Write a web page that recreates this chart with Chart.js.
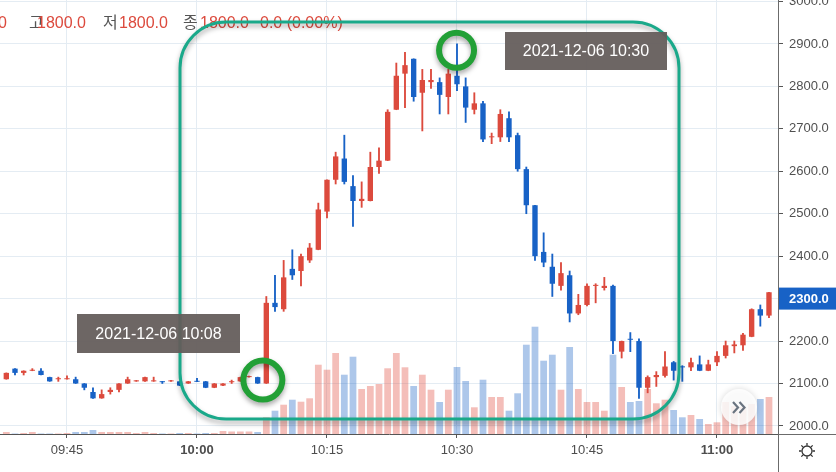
<!DOCTYPE html>
<html>
<head>
<meta charset="utf-8">
<script src="https://cdn.jsdelivr.net/npm/chart.js@4.4.1/dist/chart.umd.min.js"></script>
<style>
  html, body { margin: 0; padding: 0; background: #fff; overflow: hidden; }
  canvas { display: block; }
</style>
</head>
<body>
<canvas id="chart" width="836" height="472"></canvas>
<script>
// 1-minute candles, 2021-12-06
const times = [
  '09:38','09:39','09:40','09:41','09:42','09:43','09:44','09:45','09:46','09:47','09:48',
  '09:49','09:50','09:51','09:52','09:53','09:54','09:55','09:56','09:57','09:58','09:59',
  '10:00','10:01','10:02','10:03','10:04','10:05','10:06','10:07','10:08','10:09','10:10','10:11','10:12','10:13','10:14',
  '10:15','10:16','10:17','10:18','10:19','10:20','10:21','10:22','10:23','10:24','10:25','10:26','10:27','10:28','10:29',
  '10:30','10:31','10:32','10:33','10:34','10:35','10:36','10:37','10:38','10:39','10:40','10:41','10:42','10:43','10:44',
  '10:45','10:46','10:47','10:48','10:49','10:50','10:51','10:52','10:53','10:54','10:55','10:56','10:57','10:58','10:59',
  '11:00','11:01','11:02','11:03','11:04','11:05','11:06'
];
const open = [
  2110,2135,2125,2130,2130,2115,2110,2110,2110,2100,2080,2065,2080,2085,2100,2105,2105,2105,2105,2105,2105,2100,
  2105,2105,2090,2095,2103,2105,2115,2115,2100,2290,2275,2370,2365,2390,2415,2505,2580,2630,2565,2530,2530,2610,2625,
  2745,2830,2865,2785,2810,2810,2775,2825,2800,2745,2760,2680,2680,2725,2685,2605,2520,2410,2375,2330,2355,2265,2285,
  2330,2325,2330,2175,2205,2200,2090,2115,2118,2150,2140,2138,2145,2130,
  2150,2165,2188,2190,2210,2275,2260
];
const high = [
  2125,2135,2130,2135,2135,2115,2115,2118,2115,2100,2090,2085,2090,2100,2115,2105,2115,2115,2105,2105,2105,2105,
  2112,2105,2100,2100,2108,2115,2115,2115,2305,2355,2390,2415,2405,2430,2525,2580,2645,2685,2590,2575,2645,2655,2745,
  2855,2880,2865,2840,2840,2820,2840,2900,2820,2785,2765,2690,2745,2740,2690,2610,2520,2455,2405,2385,2365,2310,2335,
  2335,2350,2332,2200,2220,2205,2118,2128,2175,2152,2142,2160,2165,2155,
  2175,2200,2200,2218,2276,2285,2315
];
const low = [
  2110,2120,2120,2130,2120,2105,2105,2110,2100,2085,2065,2065,2075,2080,2100,2105,2105,2105,2100,2105,2095,2100,
  2104,2090,2090,2095,2100,2105,2115,2100,2100,2270,2270,2345,2330,2385,2415,2490,2570,2570,2470,2515,2530,2595,2625,
  2745,2750,2765,2695,2795,2735,2735,2790,2715,2735,2670,2665,2670,2670,2600,2500,2390,2375,2305,2320,2245,2262,2283,
  2290,2320,2170,2160,2175,2065,2078,2093,2115,2108,2105,2130,2130,2130,
  2142,2160,2172,2178,2210,2235,2255
];
const close = [
  2125,2125,2130,2130,2120,2105,2110,2110,2100,2090,2065,2075,2085,2100,2110,2105,2115,2105,2103,2105,2095,2105,
  2104,2090,2100,2100,2105,2115,2115,2100,2290,2280,2350,2355,2400,2420,2510,2580,2635,2575,2530,2535,2610,2625,2740,
  2825,2850,2775,2815,2815,2780,2830,2805,2750,2760,2675,2680,2735,2680,2605,2520,2400,2385,2335,2360,2265,2285,2330,
  2332,2330,2200,2200,2203,2090,2115,2120,2140,2130,2138,2150,2130,2145,
  2165,2190,2192,2215,2275,2260,2315
];
const volume = [
  2000,500,1000,2000,500,500,500,1000,2000,2000,4000,2000,2000,2000,2000,1000,2000,1000,500,500,1000,1000,
  500,1000,1000,3000,2500,2500,2500,2000,16700,23300,29300,34300,32300,35700,69300,64300,81000,59300,77300,45000,48000,50000,65700,
  81000,66700,48000,59300,44300,32000,44300,67000,53000,26700,54300,37000,37000,23300,40700,89300,107300,73300,79300,44300,87000,45000,32000,
  32000,23300,79300,47000,32000,33000,45000,30700,34300,24000,16700,19000,15000,10000,
  11700,32000,28000,27000,30000,35000,37000
];
const priceTicks = [2000, 2100, 2200, 2300, 2400, 2500, 2600, 2700, 2800, 2900, 3000];
const timeTicks = ['09:45', '10:00', '10:15', '10:30', '10:45', '11:00'];
const lastPrice = 2300;

const UP = '#dc4a3d', DOWN = '#1862c6';
const UP_VOL = 'rgba(225,75,60,0.36)', DOWN_VOL = 'rgba(20,95,195,0.35)';
const FONT = "'Liberation Sans', Arial, 'Noto Sans CJK KR', sans-serif";
const isUp = i => close[i] >= open[i];

Chart.defaults.font.family = FONT;

const overlay = {
  id: 'overlay',
  afterDraw(chart) {
    const c = chart.ctx, a = chart.chartArea;
    const xs = chart.scales.x, ys = chart.scales.y;
    c.save();

    // axis frame continues into the corner box
    c.strokeStyle = '#6b6b6b';
    c.lineWidth = 1;
    c.beginPath();
    c.moveTo(Math.round(a.right) + 0.5, a.bottom);
    c.lineTo(Math.round(a.right) + 0.5, chart.height);
    c.moveTo(a.right, Math.round(a.bottom) + 0.5);
    c.lineTo(chart.width, Math.round(a.bottom) + 0.5);
    c.stroke();

    // settings gear
    const gx = 807, gy = 451;
    c.strokeStyle = '#333';
    c.lineWidth = 1.3;
    c.beginPath();
    c.arc(gx, gy, 5, 0, Math.PI * 2);
    c.stroke();
    c.beginPath();
    for (let k = 0; k < 8; k++) {
      const ang = k * Math.PI / 4;
      c.moveTo(gx + Math.cos(ang) * 5.5, gy + Math.sin(ang) * 5.5);
      c.lineTo(gx + Math.cos(ang) * 8, gy + Math.sin(ang) * 8);
    }
    c.stroke();

    // last price tag
    const py = ys.getPixelForValue(lastPrice);
    c.fillStyle = DOWN;
    c.fillRect(a.right + 1, py - 11, chart.width - a.right, 22);
    c.fillStyle = '#fff';
    c.font = 'bold 13px ' + FONT;
    c.textBaseline = 'middle';
    c.fillText(lastPrice.toFixed(1), a.right + 11, py + 0.5);

    // OHLC header
    c.textBaseline = 'alphabetic';
    c.font = '16px ' + FONT;
    const head = [
      ['0', UP, -2], ['고', '#555', 29], ['1800.0', UP, 37], ['저', '#555', 103], ['1800.0', UP, 119],
      ['종', '#555', 183], ['1800.0', UP, 200], ['0.0 (0.00%)', UP, 260]
    ];
    head.forEach(([t, col, x]) => { c.fillStyle = col; c.fillText(t, x, 28); });

    // teal highlight frame
    c.save();
    c.shadowColor = 'rgba(0,0,0,0.35)';
    c.shadowBlur = 5;
    c.shadowOffsetY = 3;
    c.strokeStyle = '#1aa98a';
    c.lineWidth = 3;
    c.beginPath();
    c.roundRect(180, 22, 499, 397, 46);
    c.stroke();

    // green circles on the two marked candles
    c.strokeStyle = '#22a036';
    c.lineWidth = 6;
    c.beginPath();
    c.arc(xs.getPixelForValue(times.indexOf('10:08') - 0.4), ys.getPixelForValue(2108), 19.5, 0, Math.PI * 2);
    c.stroke();
    c.beginPath();
    c.arc(xs.getPixelForValue(times.indexOf('10:30') - 0.05), ys.getPixelForValue(2885), 17.5, 0, Math.PI * 2);
    c.stroke();
    c.restore();

    // date labels
    const box = (x, y, w, h, txt) => {
      c.fillStyle = 'rgba(100,92,90,0.94)';
      c.fillRect(x, y, w, h);
      c.fillStyle = '#fff';
      c.font = '16px ' + FONT;
      c.textAlign = 'center';
      c.textBaseline = 'middle';
      c.fillText(txt, x + w / 2, y + h / 2 + 1);
    };
    box(77, 314, 163, 39, '2021-12-06 10:08');
    box(505, 32, 162, 38, '2021-12-06 10:30');

    // scroll-to-latest button
    c.save();
    c.shadowColor = 'rgba(0,0,0,0.18)';
    c.shadowBlur = 6;
    c.fillStyle = 'rgba(255,255,255,0.85)';
    c.beginPath();
    c.arc(739, 407, 18, 0, Math.PI * 2);
    c.fill();
    c.restore();
    c.strokeStyle = '#6a7480';
    c.lineWidth = 2.2;
    c.beginPath();
    c.moveTo(733, 402); c.lineTo(738, 407.5); c.lineTo(733, 413);
    c.moveTo(739.5, 402); c.lineTo(744.5, 407.5); c.lineTo(739.5, 413);
    c.stroke();

    c.restore();
  }
};

new Chart(document.getElementById('chart'), {
  type: 'bar',
  data: {
    datasets: [
      {
        label: 'body',
        data: times.map((t, i) => ({ x: i, y: [open[i], close[i]] })),
        backgroundColor: times.map((t, i) => isUp(i) ? UP : DOWN),
        grouped: false,
        categoryPercentage: 1,
        barPercentage: 0.62,
        minBarLength: 1,
        yAxisID: 'y'
      },
      {
        label: 'wick',
        data: times.map((t, i) => ({ x: i, y: [low[i], high[i]] })),
        backgroundColor: times.map((t, i) => isUp(i) ? UP : DOWN),
        grouped: false,
        barThickness: 1.2,
        minBarLength: 1,
        yAxisID: 'y'
      },
      {
        label: 'volume',
        data: times.map((t, i) => ({ x: i, y: volume[i] })),
        backgroundColor: times.map((t, i) => isUp(i) ? UP_VOL : DOWN_VOL),
        grouped: false,
        categoryPercentage: 1,
        barPercentage: 0.78,
        yAxisID: 'yv'
      }
    ]
  },
  options: {
    responsive: false,
    animation: false,
    devicePixelRatio: 1,
    layout: { padding: 0 },
    plugins: { legend: { display: false }, tooltip: { enabled: false } },
    scales: {
      x: {
        type: 'linear',
        position: 'bottom',
        offset: false,
        min: -0.73,
        max: 89.04,
        afterBuildTicks: s => { s.ticks = timeTicks.map(t => ({ value: times.indexOf(t) })); },
        afterFit: s => { s.height = 38; s.paddingLeft = 0; s.paddingRight = 0; },
        ticks: {
          autoSkip: false,
          maxRotation: 0,
          padding: 5,
          color: '#4d4d4d',
          font: ctx => ({ size: 13, weight: ctx.tick && times[ctx.tick.value].endsWith(':00') ? 'bold' : 'normal' }),
          callback: v => times[v]
        },
        grid: { offset: false, color: '#e4ecf3', tickColor: '#555', tickLength: 4 },
        border: { color: '#555' }
      },
      y: {
        position: 'right',
        min: 1981,
        max: 3003.5,
        afterBuildTicks: s => { s.ticks = priceTicks.map(v => ({ value: v })); },
        afterFit: s => { s.width = 58; s.paddingTop = 0; s.paddingBottom = 0; },
        ticks: { color: '#505050', padding: 6, font: { size: 13 }, callback: v => v.toFixed(1) },
        grid: { color: '#e4ecf3', tickColor: '#555', tickLength: 5 },
        border: { color: '#6b6b6b' }
      },
      yv: { display: false, min: 0, max: 434000 }
    }
  },
  plugins: [overlay]
});
</script>
</body>
</html>
